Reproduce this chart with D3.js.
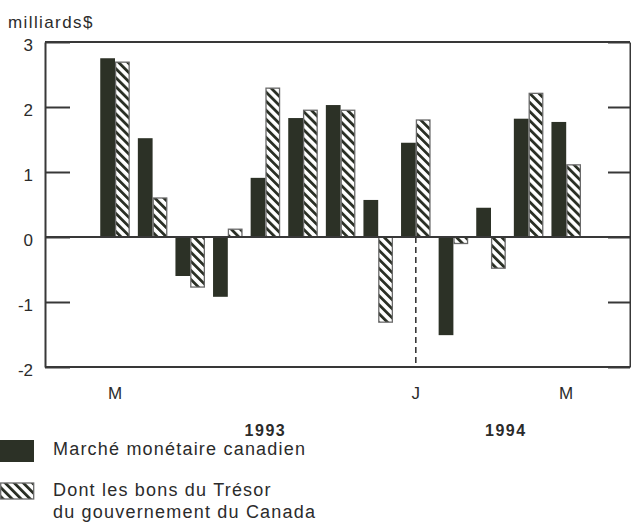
<!DOCTYPE html>
<html><head><meta charset="utf-8">
<script src="https://cdn.jsdelivr.net/npm/d3@7"></script>
<style>
body{margin:0;background:#fff}
svg{display:block}
text{font-family:"Liberation Sans",Arial,Helvetica,sans-serif;fill:#2b2b2b}
</style>
</head><body>
<svg id="chart" width="631" height="529"></svg>
<script>
// ---- data ----
const months = ["1993-05","1993-06","1993-07","1993-08","1993-09","1993-10","1993-11","1993-12","1994-01","1994-02","1994-03","1994-04","1994-05"];
const monthLabels = ["M","","","","","","","","J","","","","M"];
const marche = [2.75, 1.52, -0.60, -0.92, 0.91, 1.83, 2.03, 0.57, 1.45, -1.51, 0.45, 1.82, 1.77];
const bons   = [2.69, 0.60, -0.77, 0.12, 2.29, 1.95, 1.95, -1.31, 1.80, -0.10, -0.48, 2.21, 1.11];
const yTicks = [-2, -1, 0, 1, 2, 3];
const yearLabels = ["1993", "1994"];
const seriesNames = ["Marché monétaire canadien", "Dont les bons du Trésor|du gouvernement du Canada"];
const unitLabel = "milliards$";

// ---- layout ----
const W = 631, H = 529;
const mLeft = 45, mRight = 630, mTop = 42, mBottom = 367;
const svg = d3.select("#chart");
svg.append("rect").attr("width", W).attr("height", H).attr("fill", "#fff");

const defs = svg.append("defs");
const pat = defs.append("pattern").attr("id", "hatch").attr("patternUnits", "userSpaceOnUse")
  .attr("width", 6.4).attr("height", 6.4).attr("patternTransform", "rotate(-45)");
pat.append("rect").attr("width", 6.4).attr("height", 6.4).attr("fill", "#fff");
pat.append("rect").attr("width", 2.8).attr("height", 6.4).attr("fill", "#2a2f25");

const x0 = d3.scaleBand().domain(months).range([96.2, 585]).paddingInner(0.215).paddingOuter(0.1075);
const x1 = d3.scaleBand().domain(["marche", "bons"]).range([0, x0.bandwidth()]);
const y = d3.scaleLinear().domain([-2, 3]).range([mBottom, mTop]);
const xc = m => x0(m) + x0.bandwidth() / 2;

const lineCol = "#383838";

// bars
const g = svg.append("g");
months.forEach((m, i) => {
  const v1 = marche[i], v2 = bons[i];
  g.append("rect").attr("x", x0(m) + x1("marche")).attr("width", x1.bandwidth())
    .attr("y", y(Math.max(0, v1))).attr("height", Math.abs(y(v1) - y(0)))
    .attr("fill", "#2c3126");
  g.append("rect").attr("x", x0(m) + x1("bons") + 0.6).attr("width", x1.bandwidth() - 1.2)
    .attr("y", y(Math.max(0, v2))).attr("height", Math.abs(y(v2) - y(0)))
    .attr("fill", "url(#hatch)").attr("stroke", "#6a6a6a").attr("stroke-width", 1.3);
});

// frame lines
[3, 0, -2].forEach(v => {
  svg.append("line").attr("x1", mLeft).attr("x2", mRight).attr("y1", y(v)).attr("y2", y(v))
    .attr("stroke", lineCol).attr("stroke-width", 2.2);
});

// left axis
const ax = svg.append("g").attr("transform", `translate(${mLeft},0)`)
  .call(d3.axisLeft(y).tickValues(yTicks).tickSize(-25).tickSizeOuter(0).tickPadding(12).tickFormat(d => String(d)));
ax.selectAll("path").attr("stroke", lineCol).attr("stroke-width", 2);
ax.selectAll("line").attr("stroke", lineCol).attr("stroke-width", 2);
ax.selectAll("text").attr("font-size", 17).attr("dy", "0.52em").attr("fill", "#2b2b2b")
  .style("font-family", '"Liberation Sans",Arial,sans-serif');

// right axis
const axr = svg.append("g").attr("transform", `translate(${mRight},0)`)
  .call(d3.axisRight(y).tickValues(yTicks).tickSize(-22).tickSizeOuter(0).tickFormat(""));
axr.selectAll("path").attr("stroke", lineCol).attr("stroke-width", 2);
axr.selectAll("line").attr("stroke", lineCol).attr("stroke-width", 2);

// bottom axis labels
const axb = svg.append("g").attr("transform", `translate(0,${mBottom})`)
  .call(d3.axisBottom(x0).tickSize(0).tickPadding(20).tickFormat((d, i) => monthLabels[i]));
axb.select(".domain").remove();
axb.selectAll("text").attr("font-size", 17).attr("fill", "#2b2b2b")
  .style("font-family", '"Liberation Sans",Arial,sans-serif');

// dashed year divider
svg.append("line").attr("x1", xc(months[8])).attr("x2", xc(months[8]))
  .attr("y1", y(0)).attr("y2", y(-2)).attr("stroke", lineCol).attr("stroke-width", 1.6)
  .attr("stroke-dasharray", "6,4");

// year labels
const yearX = [xc(months[4]), (xc(months[10]) + xc(months[11])) / 2 - 4];
yearLabels.forEach((t, i) => {
  svg.append("text").attr("x", yearX[i]).attr("y", 436).attr("text-anchor", "middle")
    .attr("font-size", 16).attr("font-weight", "bold").attr("letter-spacing", 1.5).text(t);
});

// unit label
svg.append("text").attr("x", 8).attr("y", 28).attr("font-size", 17).attr("letter-spacing", 1.4).text(unitLabel);

// legend
svg.append("rect").attr("x", 0).attr("y", 440).attr("width", 34).attr("height", 22).attr("fill", "#2c3126");
svg.append("rect").attr("x", 0.7).attr("y", 483).attr("width", 33).attr("height", 16)
  .attr("fill", "url(#hatch)").attr("stroke", "#6a6a6a").attr("stroke-width", 1.3);
svg.append("text").attr("x", 53).attr("y", 455).attr("font-size", 18).attr("letter-spacing", 1.2).text(seriesNames[0]);
const lines2 = seriesNames[1].split("|");
lines2.forEach((t, i) => {
  svg.append("text").attr("x", 53).attr("y", 496 + i * 22).attr("font-size", 18).attr("letter-spacing", 1.2).text(t);
});
</script>
</body></html>
